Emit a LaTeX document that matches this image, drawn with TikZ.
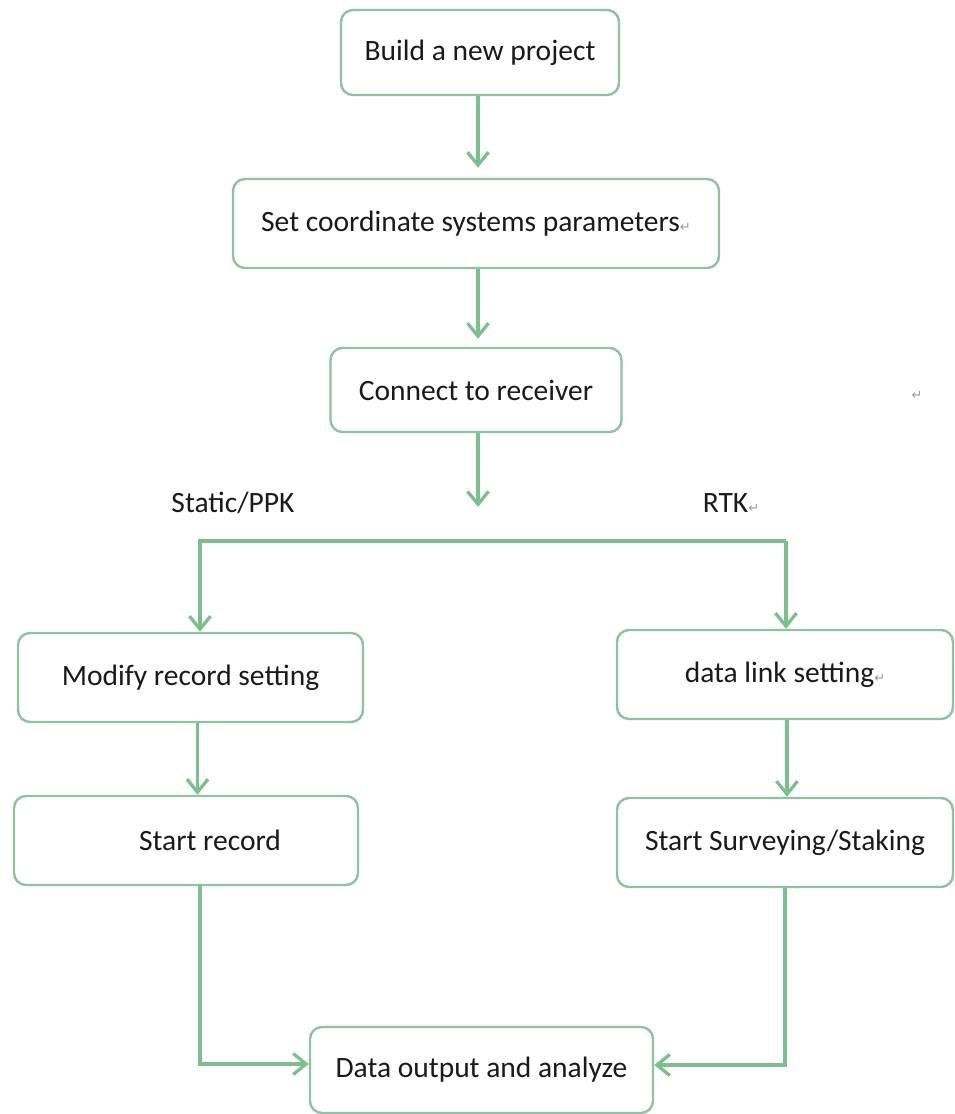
\documentclass[tikz,border=0pt]{standalone}
\usepackage{fontspec}
\setmainfont{Carlito}
\newfontfamily\markfont{DejaVu Sans}
\usetikzlibrary{positioning, arrows.meta}
\definecolor{linegreen}{RGB}{124,191,142}
\definecolor{boxgreen}{RGB}{142,194,160}
\definecolor{inkgray}{RGB}{26,26,26}
\newcommand{\parmark}{{\markfont\fontsize{13}{13}\selectfont\color{gray!80}↵}}

\begin{document}
\begin{tikzpicture}[
    x=1pt, y=-1pt,
    % GLOBAL CFG
    font=\fontsize{29.5}{34}\selectfont,
    >={Straight Barb[length=13pt, width=21pt]},
    % Styles
    step box/.style={% For the rounded process boxes
        rectangle,
        rounded corners=12pt,
        draw=boxgreen,
        line width=2.4pt,
        fill=white,
        text=inkgray,
        inner sep=0pt,
    },
    branch/.style={% For the branch names
        text=inkgray,
        inner sep=1pt,
    },
    flow/.style={% Connectors
        draw=linegreen,
        line width=3.3pt,
    },
    ]

    % Page
    \useasboundingbox (0,0) rectangle (955,1114);

    % Draw main column
    \node [step box, minimum width=278pt, minimum height=85pt] (build) at (480,52.5) {Build a new project};
    \node [step box, minimum width=486pt, minimum height=89pt] (coord) at (476,223.5) {Set coordinate systems parameters\parmark};
    \node [step box, minimum width=291pt, minimum height=84pt] (connect) at (476,390) {Connect to receiver};

    % Draw branches
    \node [branch] (lblstatic) at (233,503) {Static/PPK};
    \node [branch] (lblrtk) at (731,503) {RTK\parmark};
    \node [inner sep=0pt] (mark) at (917,395) {\parmark};

    \node [step box, minimum width=345pt, minimum height=89pt] (modify) at (190.5,677.5) {Modify record setting};
    \node [step box, minimum width=344pt, minimum height=89pt] (record) at (186,840.5) {\hspace*{48pt}Start record};
    \node [step box, minimum width=336pt, minimum height=89pt] (link) at (785,674.5) {data link setting\parmark};
    \node [step box, minimum width=336pt, minimum height=89pt] (survey) at (785,842.5) {Start Surveying/Staking};

    % Draw output
    \node [step box, minimum width=343pt, minimum height=86pt] (output) at (481.5,1070) {Data output and analyze};

    % Fork coordinates
    \coordinate (split) at (478,507);
    \coordinate (forkL) at (200,541);
    \coordinate (forkR) at (786,541);

    % Connect all
    \draw [flow, ->, shorten >=10pt] ([xshift=-2pt]build.south) -- ([xshift=-2pt]build.south |- coord.north);
    \draw [flow, ->, shorten >=8pt] ([xshift=2pt]coord.south) -- ([xshift=2pt]coord.south |- connect.north);
    \draw [flow, ->] ([xshift=2pt]connect.south) -- (split);

    % Branches
    \draw [flow, ->] (forkR) -- (forkL) -- (forkL |- modify.north);
    \draw [flow, ->] (forkR) -- (forkR |- link.north);
    \draw [flow, ->] ([xshift=7pt]modify.south) -- ([xshift=7pt]modify.south |- record.north);
    \draw [flow, ->] ([xshift=2pt]link.south) -- ([xshift=2pt]link.south |- survey.north);

    % Outputs
    \draw [flow, ->] ([xshift=14pt]record.south) |- ([yshift=6pt]output.west);
    \draw [flow, ->] (survey.south) |- ([yshift=5pt]output.east);

\end{tikzpicture}
\end{document}
